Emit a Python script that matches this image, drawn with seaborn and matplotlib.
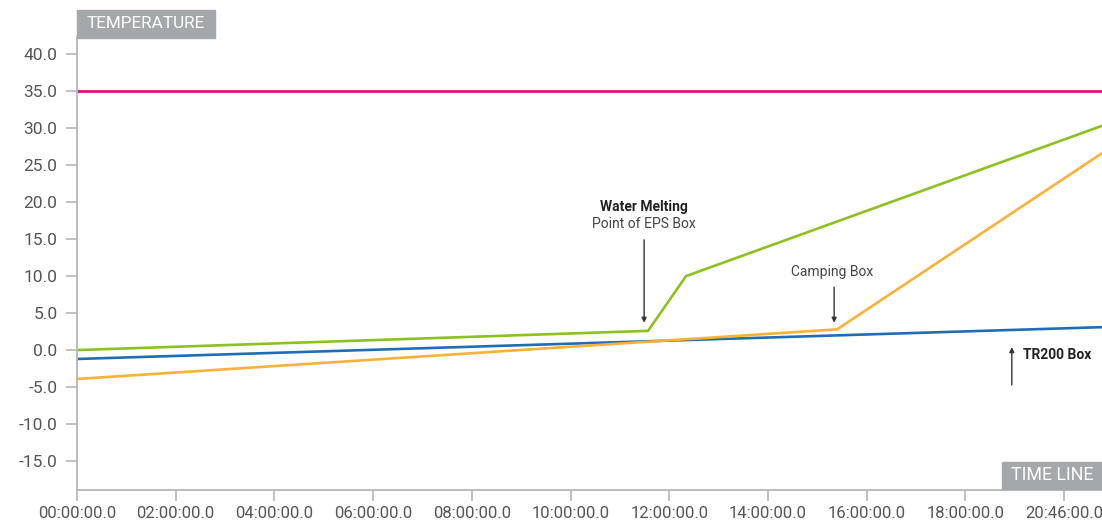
import matplotlib
matplotlib.use("Agg")
import matplotlib.pyplot as plt
from matplotlib.patches import Rectangle
import pandas as pd
import seaborn as sns

# time in hours since start, temperature in degrees
limit_t = [0.0, 20.767]
limit_v = [35.0, 35.0]

eps_t = [0.0, 11.57, 12.34, 20.767]
eps_v = [0.0, 2.6, 10.0, 30.3]

camping_t = [0.0, 15.40, 20.767]
camping_v = [-3.9, 2.8, 26.6]

tr200_t = [0.0, 20.767]
tr200_v = [-1.2, 3.1]

x_ticks = [0, 2, 4, 6, 8, 10, 12, 14, 16, 18, 20]
x_tick_labels = ["00:00:00.0", "02:00:00.0", "04:00:00.0", "06:00:00.0",
                 "08:00:00.0", "10:00:00.0", "12:00:00.0", "14:00:00.0",
                 "16:00:00.0", "18:00:00.0", "20:46:00.0"]
y_ticks = [-15, -10, -5, 0, 5, 10, 15, 20, 25, 30, 35, 40]

frames = []
for name, t, v in [("limit", limit_t, limit_v), ("eps", eps_t, eps_v),
                   ("camping", camping_t, camping_v), ("tr200", tr200_t, tr200_v)]:
    frames.append(pd.DataFrame({"time": t, "temp": v, "series": name}))
df = pd.concat(frames, ignore_index=True)

palette = {"limit": "#e5007d", "eps": "#8cc121", "camping": "#f8b13a", "tr200": "#1f6db5"}

sns.set_theme(style="ticks")
plt.rcParams["font.family"] = ["Roboto", "DejaVu Sans"]

fig = plt.figure(figsize=(11.02, 5.24), dpi=100)
ax = fig.add_axes([77 / 1102, 34 / 524, 1 - 77 / 1102, (490 - 37) / 524])

sns.lineplot(data=df, x="time", y="temp", hue="series", palette=palette,
             hue_order=["tr200", "camping", "eps", "limit"],
             linewidth=1.9, legend=False, ax=ax, estimator=None, sort=False)

ax.set_xlim(0, 20.767)
ax.set_ylim(-18.9, 42.3)
ax.set_xticks(x_ticks)
ax.set_xticklabels(x_tick_labels)
ax.set_yticks(y_ticks)
ax.set_yticklabels([f"{v:.1f}" for v in y_ticks])
ax.set_xlabel("")
ax.set_ylabel("")

spine_c = "#b4b6b8"
for s in ["top", "right"]:
    ax.spines[s].set_visible(False)
for s in ["left", "bottom"]:
    ax.spines[s].set_color(spine_c)
    ax.spines[s].set_linewidth(1.3)
ax.tick_params(axis="both", color=spine_c, length=8, width=1.2, labelsize=12)
ax.tick_params(axis="y", pad=6, labelsize=12.5)
ax.tick_params(axis="x", pad=3.5)
for lab in ax.get_xticklabels() + ax.get_yticklabels():
    lab.set_color("#555555")

# annotations
arrow = dict(arrowstyle="-|>", color="#333333", lw=1.0, mutation_scale=7, shrinkA=0, shrinkB=0)
ax.annotate("", xy=(11.49, 3.7), xytext=(11.49, 14.9), arrowprops=arrow)
ax.text(11.49, 19.3, "Water Melting", ha="center", va="center", fontsize=10,
        fontweight="bold", color="#222222")
ax.text(11.49, 17.0, "Point of EPS Box", ha="center", va="center", fontsize=10,
        color="#444444")

ax.annotate("", xy=(15.34, 3.7), xytext=(15.34, 8.5), arrowprops=arrow)
ax.text(15.30, 10.5, "Camping Box", ha="center", va="center", fontsize=10, color="#444444")

ax.annotate("", xy=(18.94, 0.4), xytext=(18.94, -4.7), arrowprops=arrow)
ax.text(19.17, -0.7, "TR200 Box", ha="left", va="center", fontsize=10,
        fontweight="bold", color="#222222")

# header boxes
box_c = "#a5a8aa"
fig.patches.append(Rectangle((77 / 1102, 1 - 38 / 524), 138 / 1102, 28 / 524,
                             transform=fig.transFigure, color=box_c, zorder=5))
fig.text(146 / 1102, 1 - 24 / 524, "TEMPERATURE", ha="center", va="center",
         fontsize=12.3, color="white", zorder=6)
fig.patches.append(Rectangle((1002 / 1102, 1 - 489 / 524), 100 / 1102, 27 / 524,
                             transform=fig.transFigure, color=box_c, zorder=5))
fig.text(1052 / 1102, 1 - 475 / 524, "TIME LINE", ha="center", va="center",
         fontsize=12.8, color="white", zorder=6)

fig.savefig("out.png", dpi=100)
plt.close(fig)
